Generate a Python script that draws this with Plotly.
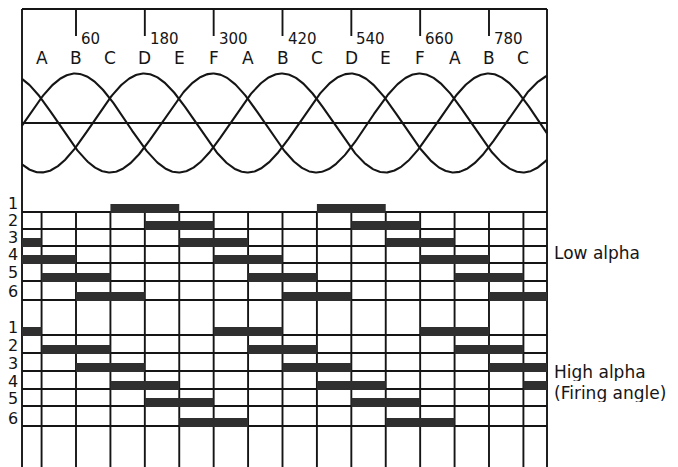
import numpy as np
import plotly.graph_objects as go

# ---------------- data ----------------
tick_angles = [60, 180, 300, 420, 540, 660, 780]
tick_labels = ["60", "180", "300", "420", "540", "660", "780"]

letter_angles = [0, 60, 120, 180, 240, 300, 360, 420, 480, 540, 600, 660, 720, 780, 840]
letter_labels = ["A", "B", "C", "D", "E", "F", "A", "B", "C", "D", "E", "F", "A", "B", "C"]

# three-phase supply: phase shifts of the three sine waves (degrees)
phase_shifts = [0, 120, -120]
phase_origin = -31          # angle on the scale where the first wave crosses zero rising

grid_angles = [0, 60, 120, 180, 240, 300, 360, 420, 480, 540, 600, 660, 720, 780, 840]
row_labels = ["1", "2", "3", "4", "5", "6"]

# gate pulses (start, end) in degrees, per thyristor row
low_alpha_row1 = [(120, 240), (480, 600)]
low_alpha_row2 = [(180, 300), (540, 660)]
low_alpha_row3 = [(-120, 0), (240, 360), (600, 720)]
low_alpha_row4 = [(-60, 60), (300, 420), (660, 780)]
low_alpha_row5 = [(0, 120), (360, 480), (720, 840)]
low_alpha_row6 = [(60, 180), (420, 540), (780, 900)]

high_alpha_row1 = [(-60, 0), (300, 420), (660, 780)]
high_alpha_row2 = [(0, 120), (360, 480), (720, 840)]
high_alpha_row3 = [(60, 180), (420, 540), (780, 900)]
high_alpha_row4 = [(120, 240), (480, 600), (840, 960)]
high_alpha_row5 = [(180, 300), (540, 660)]
high_alpha_row6 = [(240, 360), (600, 720)]

low_alpha_rows = [low_alpha_row1, low_alpha_row2, low_alpha_row3,
                  low_alpha_row4, low_alpha_row5, low_alpha_row6]
high_alpha_rows = [high_alpha_row1, high_alpha_row2, high_alpha_row3,
                   high_alpha_row4, high_alpha_row5, high_alpha_row6]

# ---------------- layout constants ----------------
WIN_W, WIN_H = 678, 467
OFF = 8                      # page body margin
W, H = WIN_W - OFF, WIN_H - OFF
PX_PER_DEG = 0.5736
PX_AT_60 = 76.0


def deg_at(px):
    return 60 + (px - PX_AT_60) / PX_PER_DEG


def paper_x(px):
    return (px - OFF) / W


X_LEFT = deg_at(22)
X_RIGHT = deg_at(547)
TOP_Y = 9
TICK_BOTTOM = 36
WAVE_CENTER = 123.0
WAVE_AMP = 49.5
TABLE_TOP = 212
LOW_BASELINES = [212, 229, 246, 263, 281, 300]
HIGH_BASELINES = [335, 353, 371, 389, 406, 426]
BAR_H = 8

INK = "#151515"
BAR = "#2f2f2f"
FONT = "DejaVu Sans"
LW = 1.9

fig = go.Figure()

# sine waves on a secondary axis in units of amplitude
xs = np.linspace(X_LEFT, X_RIGHT, 600)
for ps in phase_shifts:
    ys = np.sin(np.radians(xs - phase_origin + ps))
    fig.add_trace(go.Scatter(x=xs, y=ys, yaxis="y2", mode="lines",
                             line=dict(color=INK, width=2.1),
                             hoverinfo="skip", showlegend=False))

shapes = []


def hline(x0, x1, y, w=LW):
    shapes.append(dict(type="line", xref="x", yref="y", x0=x0, x1=x1, y0=y, y1=y,
                       line=dict(color=INK, width=w)))


def vline(x, y0, y1, w=LW):
    shapes.append(dict(type="line", xref="x", yref="y", x0=x, x1=x, y0=y0, y1=y1,
                       line=dict(color=INK, width=w)))


# frame
hline(X_LEFT, X_RIGHT, TOP_Y)
vline(X_LEFT, TOP_Y, WIN_H + 5)
vline(X_RIGHT, TOP_Y, WIN_H + 5)
hline(X_LEFT, X_RIGHT, WAVE_CENTER)
for t in tick_angles:
    vline(t, TOP_Y, TICK_BOTTOM)

# table grid
for g in grid_angles:
    vline(g, TABLE_TOP, WIN_H + 5)
for b in LOW_BASELINES + HIGH_BASELINES:
    hline(X_LEFT, X_RIGHT, b)

# pulses
for rows, bases in ((low_alpha_rows, LOW_BASELINES), (high_alpha_rows, HIGH_BASELINES)):
    for pulses, base in zip(rows, bases):
        for s, e in pulses:
            x0 = max(s, X_LEFT)
            x1 = min(e, X_RIGHT)
            if x1 <= x0:
                continue
            shapes.append(dict(type="rect", xref="x", yref="y", x0=x0, x1=x1,
                               y0=base - BAR_H, y1=base + 1,
                               fillcolor=BAR, line=dict(width=0)))

annotations = []
for t, lab in zip(tick_angles, tick_labels):
    annotations.append(dict(x=t, y=39, xref="x", yref="y", text=lab, showarrow=False,
                            xanchor="left", yanchor="middle", xshift=3,
                            font=dict(family=FONT, size=15, color=INK)))
for a, lab in zip(letter_angles, letter_labels):
    annotations.append(dict(x=a, y=58, xref="x", yref="y", text=lab, showarrow=False,
                            xanchor="center", yanchor="middle",
                            font=dict(family=FONT, size=17, color=INK)))
for lab, b in zip(row_labels, LOW_BASELINES):
    annotations.append(dict(x=paper_x(13), y=b - 9, xref="paper", yref="y", text=lab,
                            showarrow=False, xanchor="center", yanchor="middle",
                            height=14, valign="middle",
                            font=dict(family=FONT, size=16, color=INK)))
for lab, b in zip(row_labels, HIGH_BASELINES):
    annotations.append(dict(x=paper_x(13), y=b - 8, xref="paper", yref="y", text=lab,
                            showarrow=False, xanchor="center", yanchor="middle",
                            height=14, valign="middle",
                            font=dict(family=FONT, size=16, color=INK)))

annotations.append(dict(x=paper_x(552), y=253, xref="paper", yref="y", text="Low alpha",
                        showarrow=False, xanchor="left", yanchor="middle",
                        font=dict(family=FONT, size=17, color=INK)))
annotations.append(dict(x=paper_x(552), y=372, xref="paper", yref="y", text="High alpha",
                        showarrow=False, xanchor="left", yanchor="middle",
                        height=18, valign="middle",
                        font=dict(family=FONT, size=17, color=INK)))
annotations.append(dict(x=paper_x(552), y=393, xref="paper", yref="y", text="(Firing angle)",
                        showarrow=False, xanchor="left", yanchor="middle",
                        height=18, valign="middle",
                        font=dict(family=FONT, size=17, color=INK)))

fig.update_layout(
    width=W, height=H,
    margin=dict(l=0, r=0, t=0, b=0),
    paper_bgcolor="white", plot_bgcolor="white",
    showlegend=False,
    xaxis=dict(range=[deg_at(OFF), deg_at(WIN_W)], visible=False, fixedrange=True),
    yaxis=dict(range=[WIN_H, OFF], visible=False, fixedrange=True),
    yaxis2=dict(range=[(WAVE_CENTER - WIN_H) / WAVE_AMP, (WAVE_CENTER - OFF) / WAVE_AMP],
                overlaying="y", visible=False, fixedrange=True),
    shapes=shapes,
    annotations=annotations,
)

fig.write_html("out.html")
